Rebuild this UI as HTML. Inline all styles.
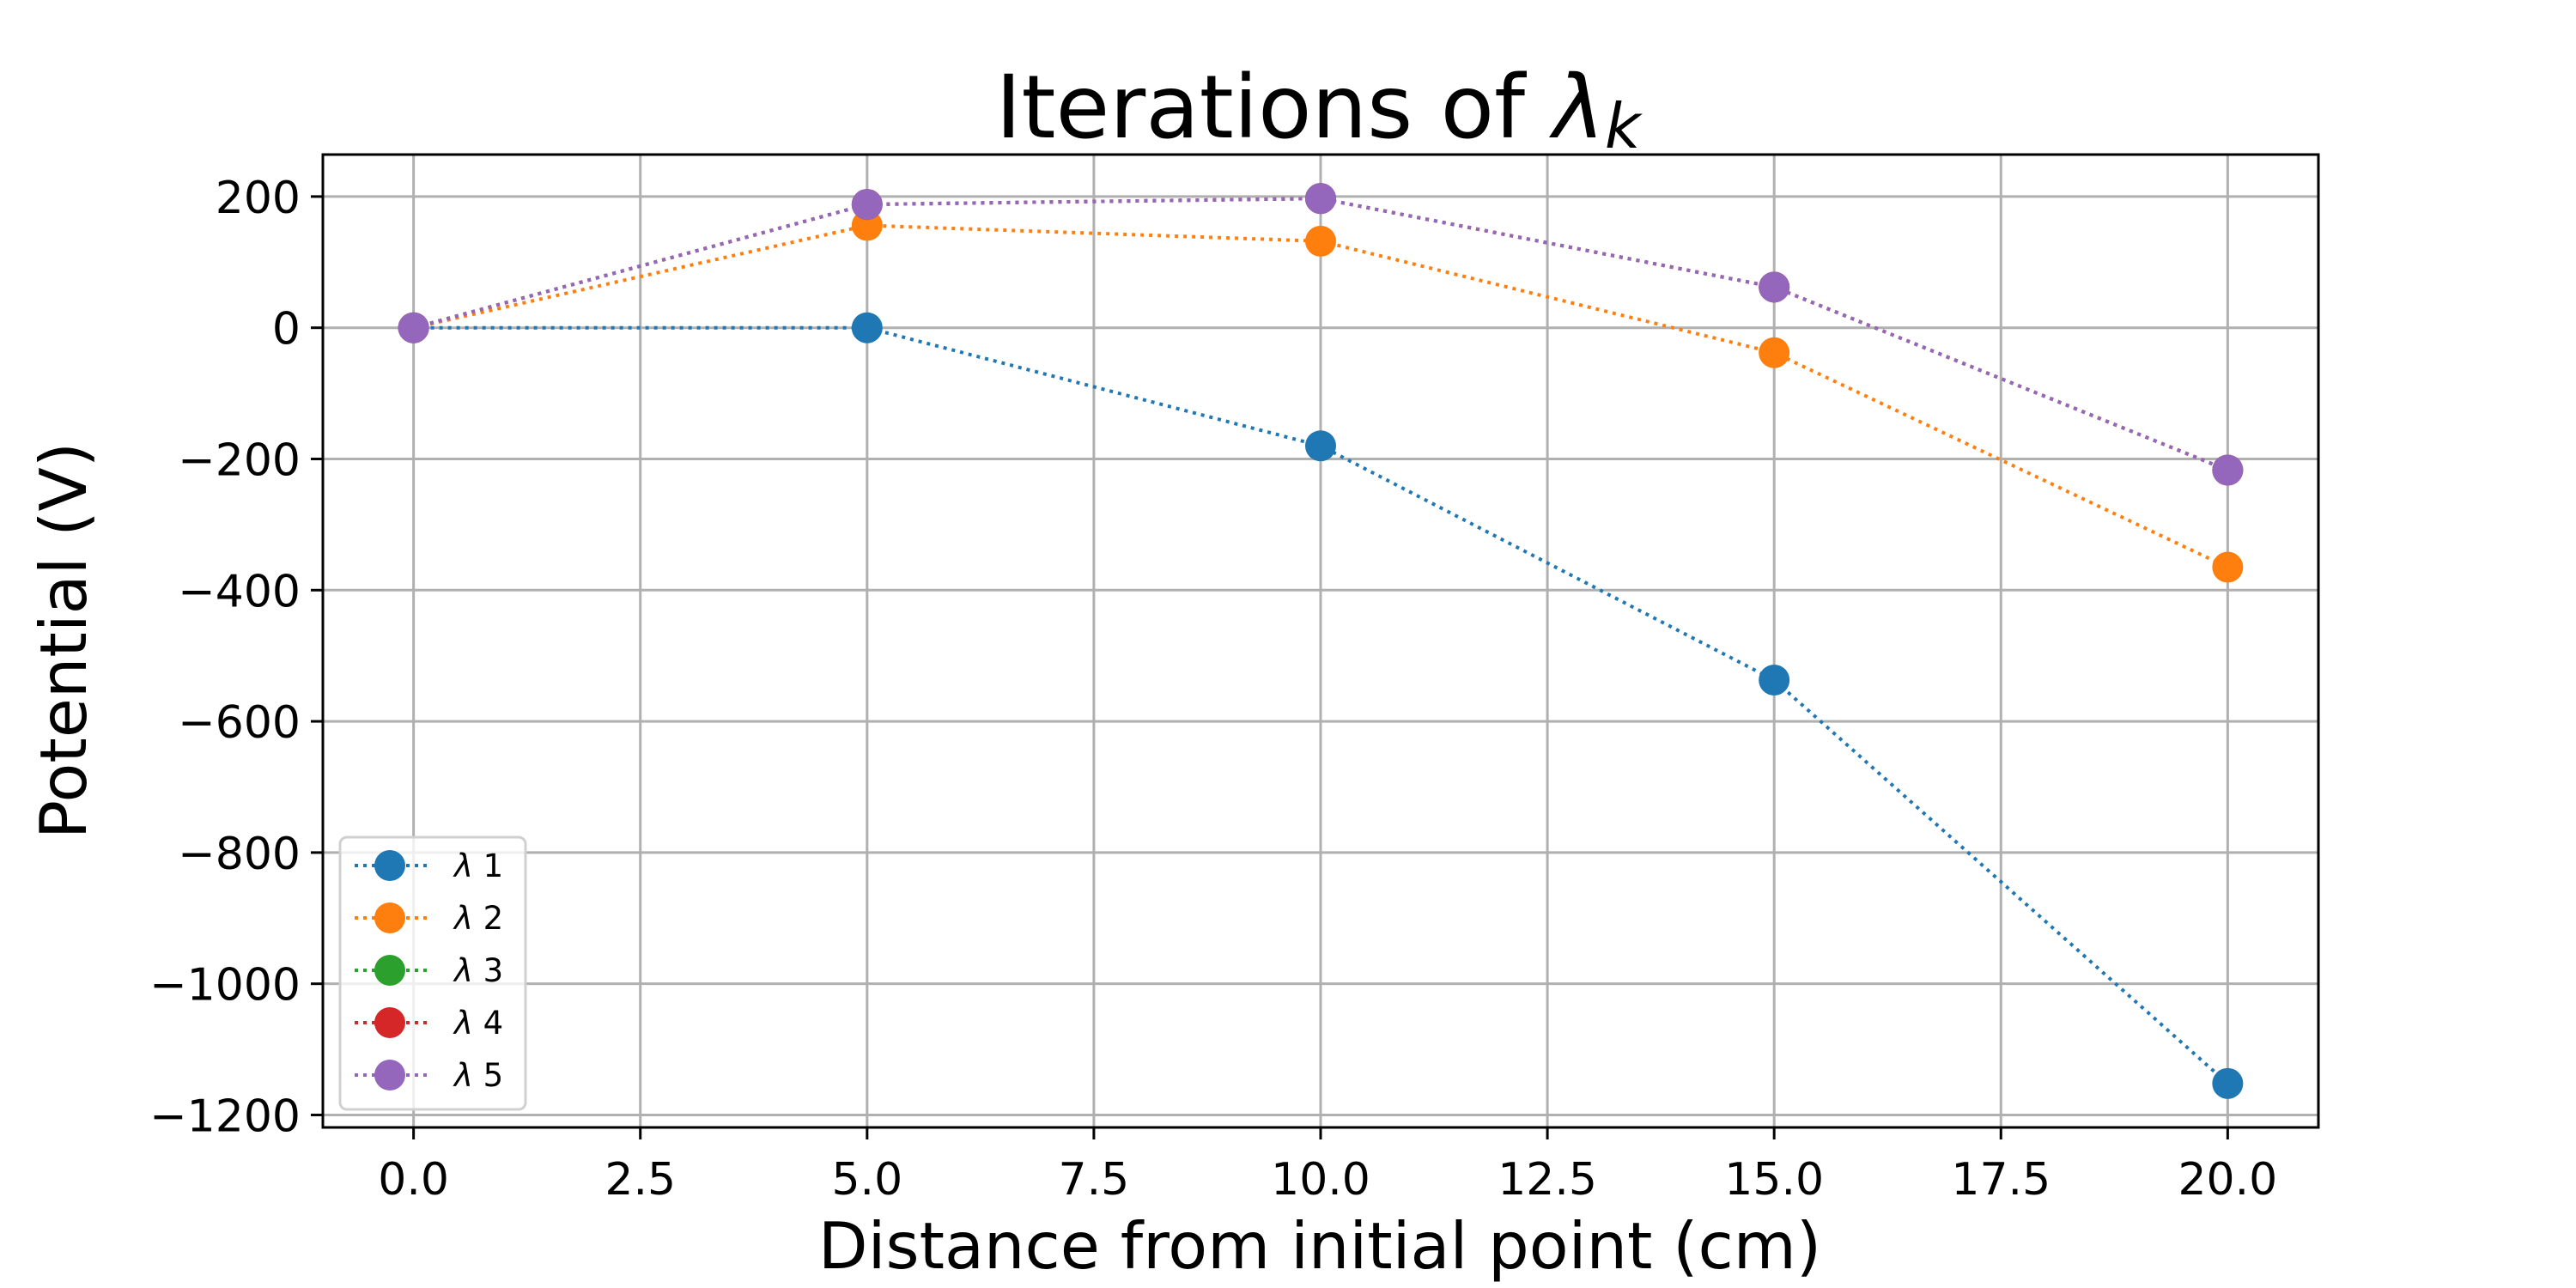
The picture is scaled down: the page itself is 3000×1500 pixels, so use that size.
<!DOCTYPE html>
<html><head><meta charset="utf-8"><style>body{margin:0;background:#fff}svg{display:block}text{font-family:"DejaVu Sans","Liberation Sans",sans-serif}</style></head>
<body>
<svg id="chart" width="3000" height="1500" viewBox="0 0 3000 1500" xmlns="http://www.w3.org/2000/svg">
<rect width="3000" height="1500" fill="#fff"/>
<g id="grid"></g><g id="series"></g><g id="axes"></g><g id="legend"></g>
</svg>
<script>
const xValues = [0, 5, 10, 15, 20];
const seriesNames = ["1", "2", "3", "4", "5"];
const seriesColors = ["#1f77b4", "#ff7f0e", "#2ca02c", "#d62728", "#9467bd"];
const lambda1 = [0, 0, -180, -537, -1152];
const lambda2 = [0, 156, 132, -38, -365];
const lambda3 = [0, 188, 197, 62, -217];
const lambda4 = [0, 188, 197, 62, -217];
const lambda5 = [0, 188, 197, 62, -217];
const xTicks = [0, 2.5, 5, 7.5, 10, 12.5, 15, 17.5, 20];
const xTickLabels = ["0.0", "2.5", "5.0", "7.5", "10.0", "12.5", "15.0", "17.5", "20.0"];
const yTicks = [200, 0, -200, -400, -600, -800, -1000, -1200];
const yTickLabels = ["200", "0", "\u2212200", "\u2212400", "\u2212600", "\u2212800", "\u22121000", "\u22121200"];

const NS = "http://www.w3.org/2000/svg";
const L = 376, R = 2700, T = 180, B = 1313;
const xMin = -1, xMax = 21, yMin = -1219, yMax = 264;
const sx = v => L + (v - xMin) / (xMax - xMin) * (R - L);
const sy = v => B - (v - yMin) / (yMax - yMin) * (B - T);
function mk(tag, attrs, parent) {
  const e = document.createElementNS(NS, tag);
  for (const k in attrs) e.setAttribute(k, attrs[k]);
  parent.appendChild(e);
  return e;
}
const svg = document.getElementById('chart');
const grid = document.getElementById('grid');
const axes = document.getElementById('axes');
const series = document.getElementById('series');
const legend = document.getElementById('legend');

xTicks.forEach((v, i) => {
  const x = sx(v);
  const g = mk('line', {x1: x, x2: x, y1: T, y2: B, stroke: '#b0b0b0', 'stroke-width': 3}, grid);
  
  
  const t = mk('line', {x1: x, x2: x, y1: B, y2: B + 14, stroke: '#000', 'stroke-width': 3}, axes);
  
  
  const lb = mk('text', {x: x, y: 1391, 'font-size': 52, 'text-anchor': 'middle'}, axes);
  lb.textContent = xTickLabels[i];
  
  
});
yTicks.forEach((v, i) => {
  const y = sy(v);
  const g = mk('line', {x1: L, x2: R, y1: y, y2: y, stroke: '#b0b0b0', 'stroke-width': 3}, grid);
  
  
  const t = mk('line', {x1: L - 14, x2: L, y1: y, y2: y, stroke: '#000', 'stroke-width': 3}, axes);
  
  
  const lb = mk('text', {x: L - 26, y: y + 19, 'font-size': 52, 'text-anchor': 'end'}, axes);
  lb.textContent = yTickLabels[i];
  
  
});
const frame = mk('rect', {x: L, y: T, width: R - L, height: B - T, fill: 'none', stroke: '#000', 'stroke-width': 3}, axes);



const allSeries = [lambda1, lambda2, lambda3, lambda4, lambda5];
allSeries.forEach((vals, si) => {
  const g = mk('g', {}, series);
  
  
  const pts = vals.map((v, i) => sx(xValues[i]) + ',' + sy(v)).join(' ');
  const pl = mk('polyline', {points: pts, fill: 'none', stroke: seriesColors[si], 'stroke-width': 4, 'stroke-dasharray': '4,6'}, g);
  
  
  vals.forEach((v, i) => {
    const c = mk('circle', {cx: sx(xValues[i]), cy: sy(v), r: 18, fill: seriesColors[si]}, g);
    
    
  });
});

const lbox = mk('rect', {x: 396, y: 975, width: 216, height: 317, rx: 8, fill: 'rgba(255,255,255,0.8)', stroke: '#d0d0d0', 'stroke-width': 3}, legend);


seriesNames.forEach((n, i) => {
  const y = 1008 + i * 61;
  const g = mk('g', {}, legend);
  
  
  mk('line', {x1: 413, x2: 497, y1: y, y2: y, stroke: seriesColors[i], 'stroke-width': 4, 'stroke-dasharray': '4,6'}, g);
  mk('circle', {cx: 454, cy: y, r: 18, fill: seriesColors[i]}, g);
  const t = mk('text', {x: 529, y: y + 13, 'font-size': 37}, g);
  t.innerHTML = '<tspan font-style="italic">λ</tspan> ' + n;
});

const title = mk('text', {x: 1535, y: 160, 'font-size': 102, 'text-anchor': 'middle'}, svg);
title.innerHTML = 'Iterations of <tspan font-style="italic">λ</tspan><tspan font-style="italic" font-size="72" dy="12">k</tspan>';


const xl = mk('text', {x: 1537, y: 1477, 'font-size': 75, 'text-anchor': 'middle'}, svg);
xl.textContent = 'Distance from initial point (cm)';


const yl = mk('text', {x: 0, y: 0, 'font-size': 75, 'text-anchor': 'middle', transform: 'translate(100,746) rotate(-90)'}, svg);
yl.textContent = 'Potential (V)';


</script>
</body></html>
